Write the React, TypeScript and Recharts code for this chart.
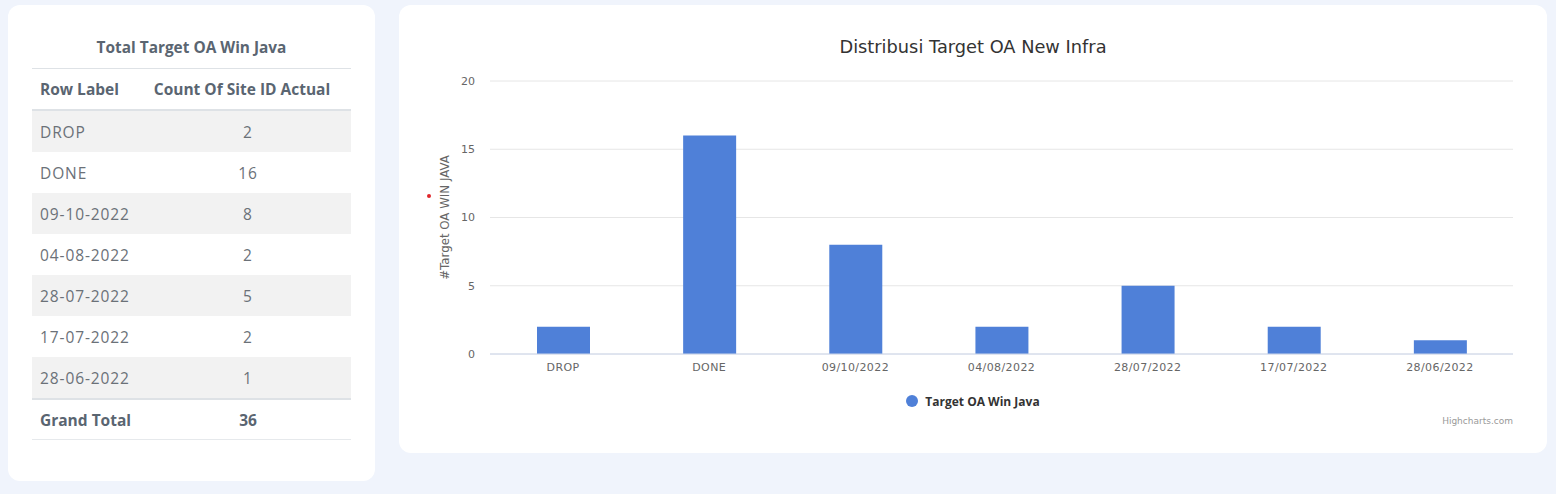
import React from 'react';
import { BarChart, Bar, XAxis, YAxis, CartesianGrid, Legend, Label } from 'recharts';

const categories = ['DROP', 'DONE', '09/10/2022', '04/08/2022', '28/07/2022', '17/07/2022', '28/06/2022'];
const values = [2, 16, 8, 2, 5, 2, 1];
const yTicks = [0, 5, 10, 15, 20];
const seriesName = 'Target OA Win Java';
const chartTitle = 'Distribusi Target OA New Infra';
const yAxisTitle = '#Target OA WIN JAVA';
const tableTitle = 'Total Target OA Win Java';
const tableHeaders = ['Row Label', 'Count Of Site ID Actual'];
const totalLabel = 'Grand Total';
const creditText = 'Highcharts.com';

const data = categories.map((c, i) => ({ name: c, value: values[i] }));
const tableLabels = categories.map((c) => c.split('/').join('-'));
const grandTotal = values.reduce((a, b) => a + b, 0);

const BAR = '#4f80d8';
const TABLE_FONT = '"Open Sans", sans-serif';
const CHART_FONT = '"DejaVu Sans", sans-serif';

const renderLegend = () => (
  <div style={{ display: 'flex', justifyContent: 'center', alignItems: 'center', height: 20, width: 1148 }}>
    <svg width={12} height={12} style={{ display: 'block' }}>
      <circle cx={6} cy={6} r={6} fill={BAR} />
    </svg>
    <span style={{ marginLeft: 7, fontSize: 12, fontWeight: 700, color: '#333333', fontFamily: '"Open Sans", sans-serif' }}>
      {seriesName}
    </span>
  </div>
);

export default function App() {
  const rowH = 41;
  return (
    <div style={{ position: 'absolute', left: 0, top: 0, width: 1556, height: 494, background: '#f0f4fc', overflow: 'hidden' }}>
      {/* Left card with table */}
      <div style={{ position: 'absolute', left: 8, top: 5, width: 367, height: 476, background: '#ffffff', borderRadius: 12 }}>
        <div style={{ position: 'absolute', left: 24, top: 0, width: 319, fontFamily: TABLE_FONT }}>
          <div style={{ height: 64, boxSizing: 'border-box', paddingTop: 32, borderBottom: '1px solid #dee2e6', textAlign: 'center', fontWeight: 'bold', fontSize: 15.4, lineHeight: '22px', color: '#5a6571' }}>
            {tableTitle}
          </div>
          <div style={{ display: 'flex', height: 40, alignItems: 'center', borderBottom: '2px solid #dee2e6', fontWeight: 'bold', fontSize: 15.5, color: '#5a6571' }}>
            <div style={{ width: 113, paddingLeft: 8, boxSizing: 'border-box' }}>{tableHeaders[0]}</div>
            <div style={{ width: 206, textAlign: 'center', paddingRight: 12, boxSizing: 'border-box' }}>{tableHeaders[1]}</div>
          </div>
          {tableLabels.map((l, i) => (
            <div key={l} style={{ display: 'flex', height: rowH, alignItems: 'center', background: i % 2 === 0 ? '#f2f2f2' : '#ffffff', fontSize: 15.5, color: '#6b7178', letterSpacing: 0.9 }}>
              <div style={{ width: 113, paddingLeft: 8, boxSizing: 'border-box' }}>{l}</div>
              <div style={{ width: 206, textAlign: 'center' }}>{values[i]}</div>
            </div>
          ))}
          <div style={{ display: 'flex', height: 42, boxSizing: 'border-box', alignItems: 'center', borderTop: '2px solid #dee2e6', borderBottom: '1px solid #e6e9ec', fontWeight: 'bold', fontSize: 15.5, color: '#5a6571' }}>
            <div style={{ width: 113, paddingLeft: 8, boxSizing: 'border-box' }}>{totalLabel}</div>
            <div style={{ width: 206, textAlign: 'center' }}>{grandTotal}</div>
          </div>
        </div>
      </div>

      {/* Right card with chart */}
      <div style={{ position: 'absolute', left: 399, top: 5, width: 1148, height: 448, background: '#ffffff', borderRadius: 12 }}>
        <div style={{ position: 'absolute', left: 0, top: 30, width: 1148, textAlign: 'center', fontFamily: CHART_FONT, fontSize: 17.8, color: '#333333', lineHeight: '24px' }}>
          {chartTitle}
        </div>
        <div style={{ position: 'absolute', left: 28, top: 189, width: 4, height: 4, borderRadius: 2, background: '#e0262b' }} />
        <div style={{ position: 'absolute', right: 34, top: 411, fontFamily: CHART_FONT, fontSize: 9, color: '#999999' }}>
          {creditText}
        </div>
        <div style={{ position: 'absolute', left: 0, top: 0 }}>
          <BarChart width={1148} height={448} data={data} margin={{ top: 76, right: 34, bottom: 42, left: 1 }}>
            <CartesianGrid vertical={false} stroke="#e6e6e6" />
            <XAxis
              dataKey="name"
              height={37}
              tickLine={false}
              axisLine={{ stroke: '#ccd6eb' }}
              tickSize={0}
              tickMargin={9}
              tick={{ fill: '#666666', fontSize: 11, fontFamily: CHART_FONT, letterSpacing: 0.4 }}
              interval={0}
            />
            <YAxis
              width={90}
              domain={[0, 20]}
              ticks={yTicks}
              axisLine={false}
              tickLine={false}
              tickSize={0}
              tickMargin={15}
              tick={{ fill: '#666666', fontSize: 11, fontFamily: CHART_FONT }}
            >
              <Label value={yAxisTitle} angle={-90} position="center" style={{ fill: '#666666', fontSize: 11.8, fontFamily: CHART_FONT }} />
            </YAxis>
            <Legend verticalAlign="bottom" height={20} content={renderLegend} wrapperStyle={{ left: 0, width: 1148 }} />
            <Bar dataKey="value" name={seriesName} fill={BAR} barSize={53} isAnimationActive={false} />
          </BarChart>
        </div>
      </div>
    </div>
  );
}
